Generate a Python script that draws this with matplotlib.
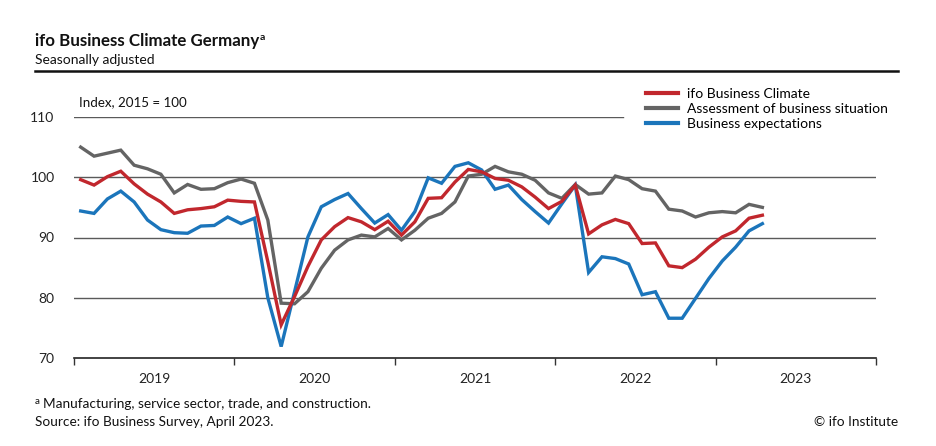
import matplotlib
matplotlib.use("Agg")
import matplotlib.pyplot as plt
from matplotlib.lines import Line2D
import numpy as np

plt.rcParams['font.family'] = ['Lato', 'DejaVu Sans']

# monthly values, Jan 2019 .. Apr 2023 (index 2015 = 100)
climate = [
    99.6, 98.7, 100.1, 101.0, 98.9, 97.2, 95.9, 94.0, 94.6, 94.8, 95.1, 96.2,
    96.0, 95.9, 86.0, 75.5, 80.2, 85.2, 89.6, 91.8, 93.3, 92.6, 91.3, 92.7,
    90.4, 92.6, 96.5, 96.6, 99.2, 101.3, 100.9, 99.8, 99.5, 98.4, 96.7, 94.8,
    96.0, 98.7, 90.6, 92.1, 93.0, 92.3, 89.0, 89.1, 85.3, 85.0, 86.4, 88.4,
    90.1, 91.1, 93.2, 93.7,
]
situation = [
    105.0, 103.5, 104.0, 104.5, 102.0, 101.4, 100.5, 97.4, 98.8, 98.0, 98.1, 99.1,
    99.7, 99.0, 92.9, 79.1, 79.0, 81.0, 84.9, 87.9, 89.6, 90.4, 90.1, 91.5,
    89.6, 91.2, 93.2, 94.0, 95.9, 100.2, 100.5, 101.8, 100.9, 100.5, 99.5, 97.4,
    96.5, 98.8, 97.2, 97.4, 100.2, 99.6, 98.1, 97.7, 94.7, 94.4, 93.4, 94.1,
    94.3, 94.1, 95.5, 95.0,
]
expectations = [
    94.4, 94.0, 96.4, 97.7, 95.9, 92.9, 91.3, 90.8, 90.7, 91.9, 92.0, 93.4,
    92.3, 93.2, 80.0, 71.9, 81.0, 90.1, 95.1, 96.3, 97.3, 94.8, 92.4, 93.8,
    91.2, 94.3, 99.9, 99.0, 101.8, 102.4, 101.2, 98.0, 98.7, 96.3, 94.3, 92.4,
    95.6, 98.7, 84.2, 86.8, 86.5, 85.6, 80.5, 81.0, 76.6, 76.6, 79.9, 83.2,
    86.1, 88.4, 91.1, 92.3,
]
years = ["2019", "2020", "2021", "2022", "2023"]
series_names = ["ifo Business Climate", "Assessment of business situation",
                "Business expectations"]
colors = ["#c1272d", "#646464", "#1b75bb"]

W, H = 936, 446
fig = plt.figure(figsize=(W / 100, H / 100), dpi=100)
ax = fig.add_axes([74 / W, (H - 358) / H, (876 - 74) / W, (358 - 117) / H])

x = np.arange(len(climate)) + 0.5
# gridlines
for v in [80, 90, 100]:
    ax.axhline(v, color="#5a5a5a", lw=1.0, zorder=1)
ax.axhline(110, xmax=(623 - 74) / (876 - 74), color="#5a5a5a", lw=1.0, zorder=1)

for vals, c in zip([situation, expectations, climate], [colors[1], colors[2], colors[0]]):
    ax.plot(x, vals, color=c, lw=2.4, solid_joinstyle="miter", zorder=3)

ax.set_xlim(0, 60)
ax.set_ylim(70, 110)
ax.set_yticks([70, 80, 90, 100, 110])
ax.tick_params(axis="y", length=0, pad=14, labelsize=10, colors="#222222")
ax.set_xticks([0, 12, 24, 36, 48, 60])
ax.set_xticklabels([])
ax.set_xticks([6, 18, 30, 42, 54], minor=True)
ax.set_xticklabels(years, minor=True)
ax.tick_params(axis="x", which="major", length=5, width=1, color="#333333", direction="out")
ax.tick_params(axis="x", which="minor", length=0, pad=11, labelsize=10, colors="#222222")
for s in ["top", "right", "left"]:
    ax.spines[s].set_visible(False)
ax.spines["bottom"].set_color("#222222")
ax.spines["bottom"].set_linewidth(1.2)
ax.set_facecolor("none")

# legend
handles = [Line2D([], [], color=c, lw=3.0) for c in colors]
fig.legend(handles, series_names, loc="upper left", bbox_to_anchor=(639 / W, 1 - 81 / H),
           frameon=False, fontsize=10, handlelength=2.3, handletextpad=0.65,
           labelspacing=0.22, borderpad=0)

# titles and notes
t = fig.text(35 / W, 1 - 41 / H, "ifo Business Climate Germany", fontsize=12.2,
             fontweight="bold", va="center", color="#111111")
fig.text(35 / W, 1 - 60 / H, "Seasonally adjusted", fontsize=10, va="center", color="#111111")
fig.add_artist(Line2D([35 / W, 898 / W], [1 - 71 / H, 1 - 71 / H], color="#111111", lw=1.8))
fig.text(79 / W, 1 - 102 / H, "Index, 2015 = 100", fontsize=9.6, va="center", color="#111111")

fig.canvas.draw()
bb = t.get_window_extent()
fig.text(bb.x1 / W, 1 - 37 / H, "a", fontsize=7.5, fontweight="bold", va="center",
         color="#111111")

fig.text(35 / W, 1 - 402 / H, "a", fontsize=7, va="center", color="#111111")
fig.text(43 / W, 1 - 404 / H, "Manufacturing, service sector, trade, and construction.",
         fontsize=9.8, va="center", color="#111111")
fig.text(35 / W, 1 - 422 / H, "Source: ifo Business Survey, April 2023.", fontsize=9.8,
         va="center", color="#111111")
fig.text(898 / W, 1 - 422 / H, "\u00a9 ifo Institute", fontsize=9.8, va="center", ha="right",
         color="#111111")

fig.savefig("out.png", dpi=100)
